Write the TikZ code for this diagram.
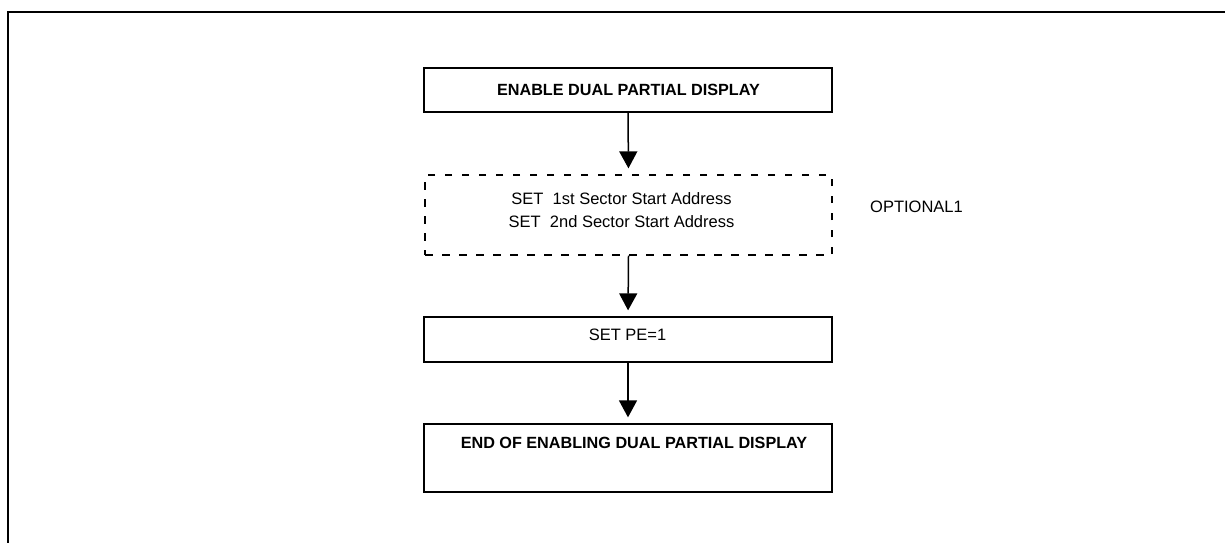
\documentclass[tikz,border=0pt]{standalone}
\usepackage{fontspec}
\setmainfont{Liberation Sans}
\usetikzlibrary{arrows.meta}
\begin{document}
\begin{tikzpicture}[x=1pt,y=-1pt,
  box/.style={draw=black,line width=1.3pt,rectangle,minimum width=408pt,inner sep=0pt},
  dbox/.style={draw=black,line width=1.3pt,rectangle,dash pattern=on 7.5pt off 9.5pt,minimum width=407pt,inner sep=0pt},
  btext/.style={font=\fontsize{16.2}{19}\selectfont\bfseries,inner sep=0pt},
  rtext/.style={font=\fontsize{16.5}{23}\selectfont,inner sep=0pt,align=center},
  flow/.style={line width=1.5pt,-{Triangle[width=18pt,length=17pt]},shorten >=6pt}]
\useasboundingbox (0,0) rectangle (1225,543);
\coordinate (frameR) at (1225,12);
\coordinate (frameC) at (8,12);
\coordinate (frameB) at (8,543);
\draw[line width=2pt] (frameR) -- (frameC) -- (frameB);

\node[box,minimum height=44pt] (b1) at (628,90) {};
\node[btext] (t1) at (628.5,90) {ENABLE DUAL PARTIAL DISPLAY};

\node[dbox,minimum height=80pt] (b2) at (628.5,215) {};
\node[rtext] (t2) at (621.5,210.5) {SET\ \ 1st Sector Start Address\\SET\ \ 2nd Sector Start Address};
\node[rtext,anchor=west] (opt) at (870,207) {OPTIONAL1};

\node[box,minimum height=45pt] (b3) at (628,339.5) {};
\node[rtext] (t3) at (627.5,335) {SET PE=1};

\node[box,minimum height=68pt] (b4) at (628,458) {};
\node[btext] (t4) at (634,443) {END OF ENABLING DUAL PARTIAL DISPLAY};

\draw[flow] (b1.south) -- (b2.north);
\draw[flow] (b2.south) -- (b3.north);
\draw[flow] (b3.south) -- (b4.north);
\end{tikzpicture}
\end{document}
